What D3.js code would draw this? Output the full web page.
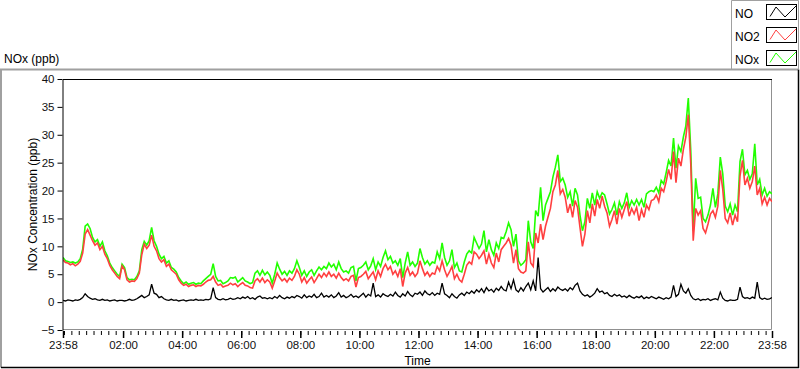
<!DOCTYPE html>
<html>
<head>
<meta charset="utf-8">
<script src="https://cdn.jsdelivr.net/npm/d3@7"></script>
<style>
  html, body { margin: 0; padding: 0; background: #fff; }
  svg { display: block; font-family: "Liberation Sans", Arial, sans-serif; }
  .axis text { font-size: 11.5px; fill: #111; }
</style>
</head>
<body>
<div id="chart"></div>
<script>
// readings every 5 minutes, starting 23:58
const startTime = '2020-01-01 23:58';
const stepMinutes = 5;

const no = [
  0.3,0.2,0.4,0.3,0.2,0.4,0.3,0.5,0.8,1.5,1.0,0.7,
  0.5,0.6,0.4,0.3,0.5,0.3,0.4,0.2,0.3,0.4,0.2,0.3,
  0.3,0.2,0.3,0.5,0.3,0.4,0.6,0.9,1.2,0.8,1.0,1.3,
  3.2,1.6,1.4,0.8,1.0,0.6,0.4,0.3,0.5,0.3,0.4,0.2,
  0.3,0.4,0.2,0.3,0.4,0.3,0.5,0.3,0.4,0.3,0.5,0.4,
  0.6,2.6,0.8,0.5,0.4,0.6,0.4,0.5,0.7,0.5,0.6,0.8,
  0.6,0.9,0.7,1.0,0.6,0.8,0.5,0.9,1.1,0.7,0.8,0.6,
  0.8,0.6,1.0,0.7,1.2,0.8,0.6,0.9,0.7,1.0,0.8,1.2,
  1.0,0.7,1.3,0.8,1.1,0.9,1.4,0.8,1.0,1.6,0.9,1.2,
  0.9,1.3,0.8,1.1,1.7,0.9,1.2,0.8,1.0,1.4,0.9,1.1,
  0.8,1.2,1.6,0.9,1.4,1.1,3.4,1.0,1.3,0.9,1.5,1.2,
  1.0,1.4,1.1,1.8,1.2,0.9,1.5,1.1,1.9,1.3,1.0,1.6,
  1.4,1.8,1.2,2.0,1.5,1.3,1.7,1.2,1.6,1.4,3.4,1.5,
  1.2,0.8,1.5,1.0,0.7,1.3,1.6,1.2,1.8,1.5,2.0,1.6,
  2.2,1.8,2.4,1.7,2.6,2.0,2.3,1.8,2.5,2.1,2.8,2.2,
  2.0,3.6,2.4,4.0,2.2,1.8,2.6,2.0,2.8,3.4,2.2,3.8,
  2.0,8.0,2.4,1.8,2.2,2.6,1.9,2.4,2.0,2.7,2.3,2.1,
  2.4,2.0,2.6,2.2,3.0,3.4,2.0,1.4,1.1,1.3,0.9,1.2,
  1.6,2.4,1.8,2.0,1.5,1.7,1.2,1.0,1.4,1.1,1.3,0.9,
  1.1,0.8,1.2,0.9,0.7,1.0,0.8,1.1,0.6,0.9,0.7,1.0,
  0.8,0.6,0.9,0.7,0.5,0.8,0.6,0.9,3.0,1.0,1.4,3.2,
  2.0,1.6,2.4,1.2,0.6,0.4,0.6,0.3,0.5,0.4,0.6,0.3,
  0.5,0.6,0.4,1.8,0.7,0.3,0.2,0.4,0.3,0.3,0.5,2.7,
  1.0,0.7,0.8,0.6,0.9,0.7,3.6,0.8,0.5,0.7,0.5,0.6,0.8
];

const no2 = [
  7.6,7.1,7.0,6.7,6.9,6.5,6.8,7.3,8.8,12.2,13.0,12.0,
  11.0,10.2,10.6,9.4,10.0,8.6,7.8,6.6,5.8,5.2,4.6,4.2,
  6.5,5.8,4.0,3.6,3.8,3.7,4.2,5.2,8.5,10.4,9.6,10.2,
  12.0,10.0,9.2,7.8,7.2,7.6,6.4,6.8,5.8,5.4,5.0,4.0,
  3.4,3.0,3.2,2.8,3.0,3.1,2.8,3.0,2.9,3.2,3.6,3.9,
  4.0,4.6,3.6,3.0,3.2,2.7,2.9,3.0,3.4,3.1,3.3,2.8,
  3.2,3.5,3.0,2.9,2.6,2.5,3.8,4.2,3.6,4.3,3.5,4.0,
  3.6,2.5,3.8,5.2,4.4,3.8,4.2,3.6,4.3,3.9,4.6,5.8,
  5.0,3.6,4.4,3.4,4.0,4.5,3.5,4.2,5.0,4.4,5.2,4.6,
  5.4,4.6,5.0,4.3,5.2,4.4,3.9,4.2,3.8,4.6,4.8,2.7,
  4.4,4.6,5.0,5.5,4.2,4.8,5.4,4.0,5.6,4.6,6.0,6.8,
  5.8,6.4,5.0,5.6,4.6,6.0,2.8,5.2,6.2,4.8,5.4,4.6,
  5.2,7.4,6.0,4.8,5.4,4.6,5.2,5.0,6.4,5.6,7.4,5.8,
  4.6,5.4,6.4,4.2,5.0,4.0,3.6,5.0,6.6,7.2,6.8,9.0,
  8.6,7.8,8.4,9.2,6.8,8.6,7.0,6.2,8.8,7.2,9.4,10.0,
  10.6,11.4,10.2,7.0,9.4,6.0,5.4,5.2,5.6,10.8,7.0,6.4,
  12.4,10.6,14.0,11.2,13.6,15.2,16.8,19.8,21.0,23.6,19.4,20.2,
  18.8,16.0,17.6,15.2,18.2,17.0,13.4,10.0,12.2,16.4,14.2,17.6,
  15.4,18.4,16.8,19.0,17.2,16.0,13.6,14.8,16.4,14.0,16.8,15.2,
  16.6,18.0,15.4,16.8,15.8,17.0,14.6,16.6,15.2,17.4,16.6,18.2,
  18.4,19.2,18.0,20.4,19.8,21.6,23.8,22.0,27.0,21.4,25.8,24.4,
  27.4,29.6,33.6,24.8,11.0,16.8,15.6,16.4,13.2,12.4,14.0,15.8,
  16.4,15.2,17.2,23.6,20.2,15.0,14.2,16.0,13.8,15.6,14.4,22.6,
  25.4,21.0,22.2,20.4,21.6,24.4,19.2,20.4,17.6,18.8,17.4,18.6,18.0
];

const nox = [
  8.0,7.4,7.3,7.1,7.2,7.0,7.2,7.8,9.5,13.6,14.0,13.2,
  11.6,10.8,11.2,10.0,10.8,9.2,8.3,7.0,6.2,5.6,5.0,4.6,
  6.8,6.2,4.4,4.0,4.1,4.0,4.6,5.6,9.4,10.9,10.2,11.0,
  13.4,11.0,10.0,8.6,7.8,8.2,7.0,7.4,6.2,5.9,5.4,4.4,
  3.8,3.3,3.6,3.2,3.4,3.5,3.2,3.4,3.3,3.8,4.2,4.6,
  5.0,6.9,4.6,3.8,3.9,3.3,3.5,3.8,4.4,4.3,4.5,3.6,
  4.0,4.4,3.8,3.6,3.3,3.5,5.2,5.6,4.8,5.7,4.9,5.4,
  4.8,3.4,5.0,7.0,5.9,5.0,5.5,4.8,5.6,5.2,6.0,7.4,
  6.2,4.8,5.6,4.6,5.4,5.8,4.8,5.6,6.3,5.8,6.4,6.0,
  7.0,6.3,6.8,5.8,7.2,6.0,5.4,5.6,5.2,6.2,6.4,3.8,
  6.0,6.2,6.6,7.2,5.8,6.5,7.8,5.8,7.2,6.4,8.0,9.2,
  7.6,8.2,7.0,7.4,6.6,7.8,4.4,7.0,9.0,6.6,7.2,6.4,
  7.0,9.6,8.0,6.8,7.4,6.6,7.2,7.0,9.0,7.8,10.6,8.0,
  6.6,7.4,9.4,6.2,7.0,5.6,5.4,7.2,8.6,9.2,8.8,11.6,
  10.6,9.6,10.4,12.8,9.0,11.2,9.4,8.4,10.6,9.6,11.6,11.4,
  12.6,14.2,13.0,10.0,12.2,7.4,6.6,7.0,7.6,14.6,10.8,9.6,
  16.4,15.4,20.6,14.6,17.4,18.6,19.8,22.4,24.2,26.4,21.6,22.2,
  21.0,18.8,19.8,17.2,20.4,19.2,15.6,12.8,14.4,18.6,16.8,19.6,
  17.4,19.8,18.6,19.6,19.2,17.6,15.8,16.6,17.8,15.6,18.0,16.8,
  17.8,19.6,17.0,18.2,17.4,18.4,17.4,18.4,17.0,19.4,19.8,20.0,
  19.8,20.6,19.6,21.8,21.2,23.2,25.4,24.4,29.4,24.0,28.0,27.0,
  29.6,31.6,36.6,27.2,12.8,22.2,18.6,18.8,15.0,14.4,15.6,17.4,
  20.4,17.0,19.4,26.0,23.0,17.2,16.2,17.6,15.6,17.4,16.2,25.2,
  27.4,22.8,23.6,22.0,23.0,28.4,21.0,22.0,19.2,20.4,19.0,19.8,19.4
];

const xTickLabels = ['2020-01-01 23:58', '2020-01-02 02:00', '2020-01-02 04:00', '2020-01-02 06:00',
  '2020-01-02 08:00', '2020-01-02 10:00', '2020-01-02 12:00', '2020-01-02 14:00', '2020-01-02 16:00',
  '2020-01-02 18:00', '2020-01-02 20:00', '2020-01-02 22:00', '2020-01-02 23:58'];
const yTicks = [-5, 0, 5, 10, 15, 20, 25, 30, 35, 40];

const seriesNames = ['NO', 'NO2', 'NOx'];
const seriesColors = ['#000000', '#ff4040', '#22ff00'];
const seriesWidths = [1.3, 1.6, 1.6];

const width = 800;
const height = 369;
const margin = { top: 79, right: 28, bottom: 39, left: 63 };
const plotW = width - margin.left - margin.right;
const plotH = height - margin.top - margin.bottom;

const parse = d3.timeParse('%Y-%m-%d %H:%M');
const t0 = parse(startTime);
const times = no.map((d, i) => d3.timeMinute.offset(t0, i * stepMinutes));
const majorTicks = xTickLabels.map(parse);

const svg = d3.select('#chart')
  .append('svg')
  .attr('width', width)
  .attr('height', height);

// outer panel and legend frame
const frame = (x0, y0, x1, y1) => {
  svg.append('path').attr('d', `M${x0},${y1}V${y0}H${x1}`)
    .attr('fill', 'none').attr('stroke', '#a0a0a0').attr('stroke-width', 2);
  svg.append('path').attr('d', `M${x0},${y1}H${x1}V${y0}`)
    .attr('fill', 'none').attr('stroke', '#000').attr('stroke-width', 1.5);
};
frame(1, 69.5, 798.5, 367.5);
svg.append('path').attr('d', 'M731.5,69.5V0.5H798.5V69.5')
  .attr('fill', 'none').attr('stroke', '#a0a0a0').attr('stroke-width', 1);

svg.append('text')
  .attr('x', 4).attr('y', 63)
  .style('font-size', '12px')
  .text('NOx (ppb)');

// legend
const legend = svg.append('g').attr('class', 'legend');
seriesNames.forEach((name, i) => {
  const ly = 4 + i * 23;
  legend.append('text')
    .attr('x', 735).attr('y', ly + 13.5)
    .style('font-size', '12px')
    .text(name);
  legend.append('rect')
    .attr('x', 766.5).attr('y', ly + 0.5)
    .attr('width', 30).attr('height', 15)
    .attr('fill', '#fff').attr('stroke', '#000');
  legend.append('path')
    .attr('d', `M770,${ly + 12.5}L776,${ly + 3}L785,${ly + 13}L796,${ly + 2}`)
    .attr('fill', 'none')
    .attr('stroke', seriesColors[i]);
});

const chart = svg.append('g')
  .attr('transform', `translate(${margin.left},${margin.top})`);

const x = d3.scaleTime()
  .domain([majorTicks[0], majorTicks[majorTicks.length - 1]])
  .range([0, plotW]);

const y = d3.scaleLinear()
  .domain([-5, 40])
  .range([plotH, 0]);

// plot border: right and bottom grey, top black
chart.append('path')
  .attr('d', `M0,0.5H${plotW - 0.5}V${plotH - 0.5}H0`)
  .attr('fill', 'none').attr('stroke', '#909090');
chart.append('line')
  .attr('x1', 0).attr('x2', plotW).attr('y1', 0.5).attr('y2', 0.5)
  .attr('stroke', '#000');

chart.append('clipPath').attr('id', 'clip')
  .append('rect').attr('width', plotW).attr('height', plotH);

const line = d3.line()
  .x((d, i) => x(times[i]))
  .y(d => y(d));

const layers = chart.append('g').attr('clip-path', 'url(#clip)');
[2, 1, 0].forEach(k => {
  layers.append('path')
    .datum([no, no2, nox][k])
    .attr('fill', 'none')
    .attr('stroke', seriesColors[k])
    .attr('stroke-width', seriesWidths[k])
    .attr('stroke-linejoin', 'miter')
    .attr('d', line);
});

// y axis
const yAxis = chart.append('g')
  .attr('class', 'axis')
  .attr('transform', 'translate(-0.5,0)')
  .call(d3.axisLeft(y).tickValues(yTicks).tickSize(5).tickSizeOuter(0).tickPadding(3));
yAxis.select('.domain').attr('stroke', '#000');

// x axis: minor ticks every 15 min, labelled majors
const minorTicks = d3.timeMinute.every(15).range(majorTicks[0], majorTicks[majorTicks.length - 1]);
chart.append('g')
  .attr('class', 'axis')
  .attr('transform', `translate(0,${plotH + 1})`)
  .call(d3.axisBottom(x).tickValues(minorTicks).tickSize(4).tickFormat(''))
  .call(g => g.select('.domain').remove());

const xAxis = chart.append('g')
  .attr('class', 'axis')
  .attr('transform', `translate(0,${plotH + 1})`)
  .call(d3.axisBottom(x).tickValues(majorTicks).tickSize(7).tickPadding(3)
    .tickFormat(d3.timeFormat('%H:%M')));
xAxis.select('.domain').remove();
xAxis.selectAll('.tick line').attr('stroke-width', 1.5);

chart.append('text')
  .attr('x', plotW / 2)
  .attr('y', plotH + 35)
  .style('text-anchor', 'middle')
  .style('font-size', '12px')
  .text('Time');

chart.append('text')
  .attr('transform', 'rotate(-90)')
  .attr('x', -plotH / 2)
  .attr('y', -26)
  .style('text-anchor', 'middle')
  .style('font-size', '12px')
  .text('NOx Concentration (ppb)');
</script>
</body>
</html>
